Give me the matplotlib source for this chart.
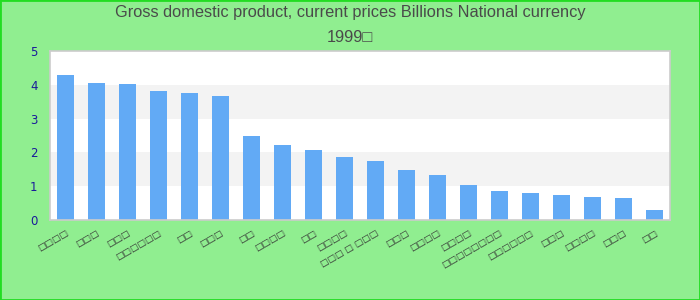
import matplotlib.pyplot as plt
import numpy as np

# Chart data (category labels shown as missing-glyph boxes in the reference)
labels = ["□□□□", "□□□", "□□□", "□□□□□□", "□□", "□□□", "□□", "□□□□", "□□", "□□□□",
          "□□□ □ □□□", "□□□", "□□□□", "□□□□", "□□□□□□□□", "□□□□□□", "□□□", "□□□□", "□□□", "□□"]
values = [4.30, 4.05, 4.02, 3.81, 3.77, 3.66, 2.49, 2.22, 2.07, 1.86,
          1.74, 1.47, 1.32, 1.05, 0.87, 0.81, 0.75, 0.69, 0.66, 0.30]
yticks = [0, 1, 2, 3, 4, 5]

fig = plt.figure(figsize=(7, 3), dpi=100, facecolor="#90ee90")
ax = fig.add_axes([50/700, 80/300, 620/700, 169/300])
ax.set_facecolor("white")

# alternating split areas
for i in range(len(yticks) - 1):
    if i % 2 == 1:
        ax.axhspan(yticks[i], yticks[i+1], color="#f3f3f3", zorder=0, lw=0)

x = np.arange(len(values))
ax.bar(x, values, width=0.56, color="#62aaf5", zorder=2)

ax.set_xlim(-0.5, len(values) - 0.5)
ax.set_ylim(0, 5)
ax.set_yticks(yticks)
ax.set_xticks(x)
ax.set_xticklabels(labels, rotation=30, ha="right", rotation_mode="anchor",
                   fontsize=6.5, color="#333333")
ax.tick_params(axis="x", length=0, pad=6)
ax.tick_params(axis="y", length=0, pad=9, labelsize=8.5, labelcolor="#1a1a9a")
for s in ax.spines.values():
    s.set_color("#cccccc")
    s.set_linewidth(1.2)

fig.text(0.5, 1 - 13/300, "Gross domestic product, current prices Billions National currency",
         ha="center", va="center", fontsize=11.8, color="#4a4a4a", family="Liberation Sans")
fig.text(0.5, 1 - 37/300, "1999□", ha="center", va="center", fontsize=11.8, color="#4a4a4a",
         family="Liberation Sans")

# outer bright green frame
fig.patches.append(plt.Rectangle((0, 0), 1, 1, transform=fig.transFigure, fill=False,
                                 edgecolor="#22dd22", linewidth=2))

plt.savefig("out.png", dpi=100, facecolor=fig.get_facecolor())
